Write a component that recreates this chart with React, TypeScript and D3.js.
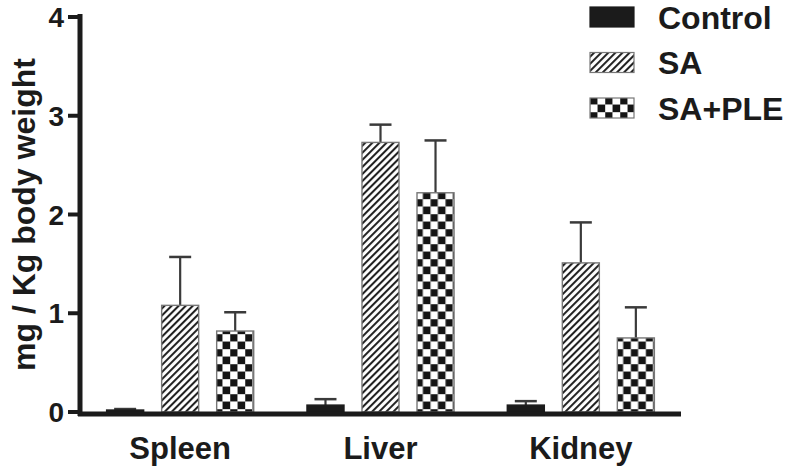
import React from 'react';
import * as d3 from 'd3';

const organs = ['Spleen', 'Liver', 'Kidney'];
const groups = ['Control', 'SA', 'SA+PLE'];
const means = {
  Control: [0.02, 0.07, 0.07],
  SA: [1.08, 2.73, 1.51],
  'SA+PLE': [0.82, 2.22, 0.75],
};
const errors = {
  Control: [0.01, 0.06, 0.04],
  SA: [0.49, 0.18, 0.41],
  'SA+PLE': [0.19, 0.53, 0.31],
};
const yTicks = [0, 1, 2, 3, 4];
const yLabel = 'mg / Kg body weight';

const W = 788;
const H = 471;
const FONT = '"Liberation Sans", Arial, Helvetica, sans-serif';
const INK = '#1b1b1b';

const fills = {
  Control: INK,
  SA: 'url(#hatch)',
  'SA+PLE': 'url(#checker)',
};

const App = () => {
  const margin = { top: 17, right: 107, bottom: 59, left: 80 };

  const x0 = d3.scaleBand()
    .domain(organs)
    .range([margin.left, W - margin.right])
    .padding(0);

  const x1 = d3.scaleBand()
    .domain(groups)
    .range([0, x0.bandwidth()])
    .paddingInner(0.327)
    .paddingOuter(0.484);

  const y = d3.scaleLinear()
    .domain([0, 4])
    .range([H - margin.bottom, margin.top]);

  const capW = 22;

  return (
    <svg width={W} height={H} style={{ position: 'absolute', left: 0, top: 0, background: '#fff' }}
      fontFamily={FONT}>
      <defs>
        <pattern id="hatch" patternUnits="userSpaceOnUse" width={5} height={5} patternTransform="rotate(45)">
          <rect width={5} height={5} fill="#fff" />
          <line x1={1} y1={0} x2={1} y2={5} stroke="#222" strokeWidth={2.1} />
        </pattern>
        <pattern id="checker" patternUnits="userSpaceOnUse" width={15} height={15} x={0} y={4}>
          <rect width={15} height={15} fill="#fff" />
          <rect x={0} y={0} width={7.5} height={7.5} fill="#151515" />
          <rect x={7.5} y={7.5} width={7.5} height={7.5} fill="#151515" />
          <path d="M0,0H15M0,7.5H15M0,0V15M7.5,0V15" stroke="#999" strokeWidth={0.8} fill="none" />
        </pattern>
      </defs>

      {/* bars + error bars */}
      {organs.map((o, i) => (
        <g key={o} transform={`translate(${x0(o)},0)`}>
          {groups.map(g => {
            const v = means[g][i];
            const e = errors[g][i];
            const bx = x1(g);
            const bw = x1.bandwidth();
            const cx = bx + bw / 2;
            return (
              <g key={g}>
                <line x1={cx} x2={cx} y1={y(v)} y2={y(v + e)} stroke="#3a3a3a" strokeWidth={2.2} />
                <line x1={cx - capW / 2} x2={cx + capW / 2} y1={y(v + e)} y2={y(v + e)} stroke="#3a3a3a" strokeWidth={2.5} />
                <rect x={bx} y={y(v)} width={bw} height={y(0) - y(v)} fill={fills[g]}
                  stroke={g === 'Control' ? INK : '#777'} strokeWidth={1.4} />
              </g>
            );
          })}
        </g>
      ))}

      {/* y axis */}
      <line x1={margin.left} x2={margin.left} y1={y(4) - 3} y2={y(0) + 4} stroke={INK} strokeWidth={5} />
      {yTicks.map(t => (
        <g key={t}>
          <line x1={margin.left - 12} x2={margin.left} y1={y(t)} y2={y(t)} stroke={INK} strokeWidth={4} />
          <text x={margin.left - 16} y={y(t)} dy="0.36em" textAnchor="end" fontSize={28} fontWeight="bold" fill={INK}>{t}</text>
        </g>
      ))}
      <text transform={`translate(35,${(y(0) + y(4)) / 2}) rotate(-90)`} textAnchor="middle" fontSize={32}
        fontWeight="bold" fill={INK}>{yLabel}</text>

      {/* x axis */}
      <line x1={margin.left - 2} x2={W - margin.right} y1={y(0) + 2} y2={y(0) + 2} stroke={INK} strokeWidth={5} />
      {organs.map(o => (
        <text key={o} x={x0(o) + x0.bandwidth() / 2} y={459} textAnchor="middle" fontSize={31} fontWeight="bold" fill={INK}>{o}</text>
      ))}

      {/* legend */}
      {groups.map((g, i) => (
        <g key={g} transform={`translate(590,${17 + i * 45.5})`}>
          <rect x={0} y={-10} width={44} height={20} fill={fills[g]} stroke={g === 'Control' ? INK : '#777'} strokeWidth={1.2} />
          <text x={68} y={0} dy="0.36em" fontSize={32} fontWeight="bold" fill={INK}>{g}</text>
        </g>
      ))}
    </svg>
  );
};

export default App;
